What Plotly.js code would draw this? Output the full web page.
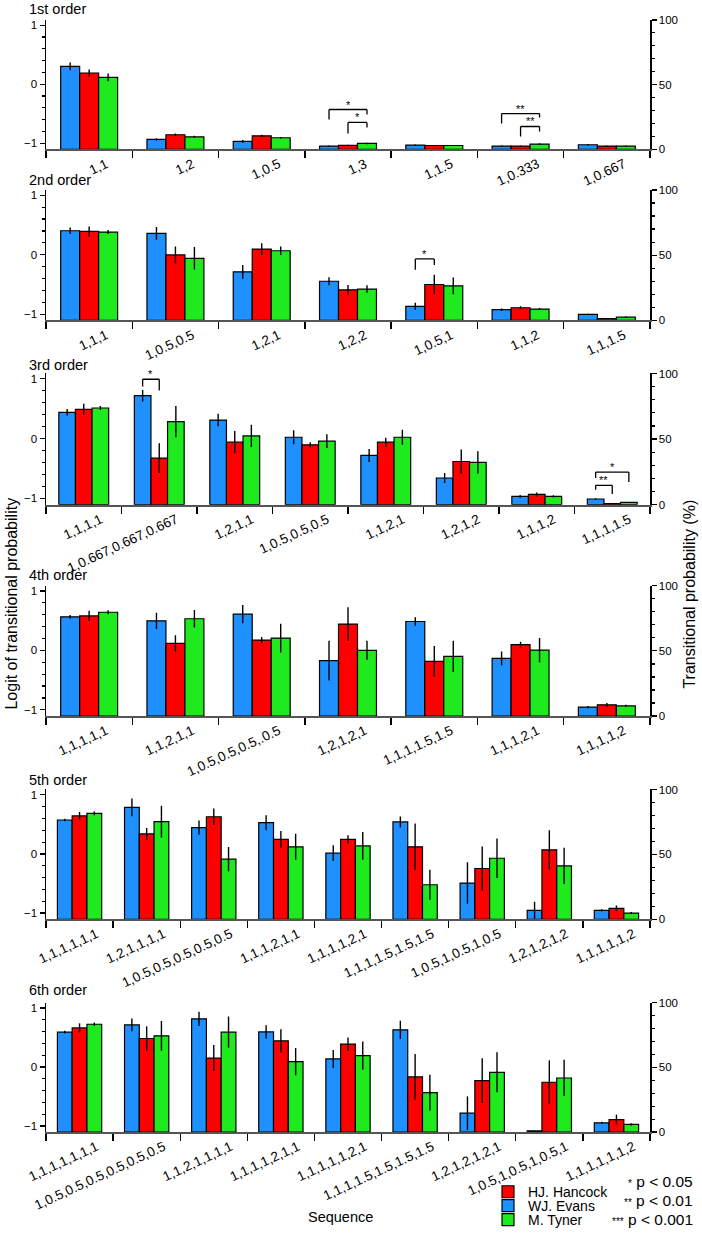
<!DOCTYPE html>
<html>
<head>
<meta charset="utf-8">
<script src="https://cdn.plot.ly/plotly-3.0.1.min.js"></script>
<style>
body { margin: 0; background: #fff; }
#chart { width: 702px; height: 1236px; }
</style>
</head>
<body>
<div id="chart"></div>
<script>
// panel titles
const orderTitles = ["1st order", "2nd order", "3rd order", "4th order", "5th order", "6th order"];

// sequences per order
const categories = [
    ["1,1", "1,2", "1,0.5", "1,3", "1,1.5", "1,0.333", "1,0.667"],
    ["1,1,1", "1,0.5,0.5", "1,2,1", "1,2,2", "1,0.5,1", "1,1,2", "1,1,1.5"],
    ["1,1,1,1", "1,0.667,0.667,0.667", "1,2,1,1", "1,0.5,0.5,0.5", "1,1,2,1", "1,2,1,2", "1,1,1,2", "1,1,1,1.5"],
    ["1,1,1,1,1", "1,1,2,1,1", "1,0.5,0.5,0.5,.0.5", "1,2,1,2,1", "1,1,1,1.5,1.5", "1,1,1,2,1", "1,1,1,1,2"],
    ["1,1,1,1,1,1", "1,2,1,1,1,1", "1,0.5,0.5,0.5,0.5,0.5", "1,1,1,2,1,1", "1,1,1,1,2,1", "1,1,1,1.5,1.5,1.5", "1,0.5,1,0.5,1,0.5", "1,2,1,2,1,2", "1,1,1,1,1,2"],
    ["1,1,1,1,1,1,1", "1,0.5,0.5,0.5,0.5,0.5,0.5", "1,1,2,1,1,1,1", "1,1,1,1,2,1,1", "1,1,1,1,1,2,1", "1,1,1,1.5,1.5,1.5,1.5", "1,2,1,2,1,2,1", "1,0.5,1,0.5,1,0.5,1", "1,1,1,1,1,1,2"]
];

// transitional probability (%) per order
const evansVals = [
    [64.1, 7.7, 6.2, 2.6, 3.3, 2.6, 3.6],
    [68.7, 66.7, 37.2, 30.0, 10.7, 8.2, 4.6],
    [70.4, 83.1, 64.5, 51.4, 37.5, 20.3, 6.3, 4.3],
    [76.1, 73.0, 78.1, 42.5, 72.5, 44.3, 6.9],
    [76.5, 86.2, 70.6, 74.4, 50.9, 75.0, 27.9, 6.9, 6.9],
    [77.2, 82.8, 87.5, 77.4, 56.5, 79.0, 14.6, 1.0, 7.2]
];
const hancockVals = [
    [59.0, 11.3, 10.5, 3.1, 3.0, 2.6, 2.6],
    [68.2, 50.2, 54.7, 23.4, 27.5, 9.7, 1.3],
    [72.7, 35.5, 47.6, 45.6, 47.6, 32.9, 7.8, 0.8],
    [76.8, 55.7, 58.3, 70.5, 42.0, 54.7, 8.6],
    [79.6, 65.8, 79.0, 61.6, 61.6, 55.8, 39.1, 53.5, 8.4],
    [80.5, 72.3, 57.2, 70.5, 68.0, 42.6, 39.8, 38.5, 9.7]
];
const tynerVals = [
    [55.6, 9.7, 9.0, 4.6, 3.0, 4.1, 2.6],
    [67.7, 47.6, 53.4, 24.0, 26.5, 8.7, 2.5],
    [73.7, 63.3, 52.4, 48.4, 51.4, 32.2, 6.3, 1.8],
    [79.6, 74.6, 59.8, 50.4, 45.8, 50.6, 7.9],
    [81.6, 75.2, 46.3, 55.8, 56.5, 26.6, 47.0, 41.2, 4.8],
    [83.3, 74.4, 77.2, 54.4, 59.0, 30.5, 46.2, 41.8, 5.9]
];

// error bar half lengths (%)
const evansErr = [
    [3.0, 1.0, 1.0, 0.4, 0.5, 0.4, 0.5],
    [2.5, 4.8, 5.3, 3.0, 2.8, 1.0, 0.5],
    [2.5, 4.4, 4.8, 5.4, 5.0, 3.8, 1.0, 0.5],
    [1.3, 6.2, 7.0, 15.3, 3.2, 5.3, 0.8],
    [1.0, 6.8, 5.5, 5.8, 6.1, 4.2, 16.0, 6.5, 0.8],
    [1.0, 4.9, 5.5, 5.1, 6.9, 7.0, 13.0, 0, 0.8]
];
const hancockErr = [
    [2.8, 1.0, 0.8, 0.4, 0.4, 0.4, 0.4],
    [3.8, 6.5, 4.5, 3.8, 7.4, 1.2, 0.3],
    [4.3, 11.4, 8.5, 2.0, 3.4, 9.1, 1.5, 0.2],
    [4.0, 6.2, 2.3, 13.0, 11.8, 2.3, 1.5],
    [3.0, 4.5, 6.4, 6.4, 3.2, 17.9, 16.9, 15.0, 2.2],
    [3.5, 9.4, 10.0, 9.0, 5.1, 17.7, 17.3, 16.9, 3.8]
];
const tynerErr = [
    [3.0, 0.8, 0.6, 0.6, 0.4, 0.6, 0.4],
    [1.5, 8.6, 3.3, 2.9, 6.4, 0.8, 0.4],
    [1.6, 12.0, 8.5, 5.3, 5.7, 8.5, 0.8, 0.3],
    [1.5, 6.7, 11.0, 7.3, 12.0, 9.3, 0.8],
    [1.5, 12.2, 9.3, 10.0, 10.7, 11.5, 15.3, 14.0, 0.8],
    [1.3, 11.5, 12.0, 10.5, 10.9, 13.8, 15.4, 14.0, 1.0]
];

// significance brackets: order index, category index, from bar, to bar, top, left end, right end, stars
const brackets = [
    [0, 3, 0, 2, 30.8, 23.0, 27.0, "*"],
    [0, 3, 1, 2, 20.8, 12.3, 17.0, "*"],
    [0, 5, 0, 2, 27.7, 20.0, 24.6, "**"],
    [0, 5, 1, 2, 17.7, 10.0, 13.8, "**"],
    [1, 4, 0, 1, 47.1, 38.9, 42.5, "*"],
    [2, 1, 0, 1, 95.6, 90.0, 87.0, "*"],
    [2, 7, 0, 2, 24.8, 20.3, 17.2, "*"],
    [2, 7, 0, 1, 14.7, 11.4, 8.1, "**"]
];

const seriesNames = ["WJ. Evans", "HJ. Hancock", "M. Tyner"];
const seriesColors = ["#1E90FF", "#FF0000", "#1EEA1E"];
const seriesLegend = ["legend2", "legend", "legend3"];

const W = 702, H = 1236;
const ML = 46, MR = 52;
// pixel rows of each panel: [top (100 %), base (0 %)]
const panelPx = [[20, 150], [190.7, 321.7], [375, 506.7], [588, 719], [792.7, 923], [1006.7, 1136.7]];
const titlePx = [9, 181, 366, 577, 783, 994];
const legendPx = [1197, 1211, 1225];
const bargap = 0.34;
const barOff = (1 - bargap) / 3;
const font = "Liberation Sans, Arial, sans-serif";

function px2x(p) { return (p - ML) / (W - ML - MR); }
function px2y(p) { return 1 - p / H; }

let data = [];
let layout = {
    width: W, height: H,
    margin: { l: ML, r: MR, t: 0, b: 0 },
    paper_bgcolor: "white", plot_bgcolor: "white",
    font: { family: font, color: "black", size: 12 },
    barmode: "group", bargap: bargap, bargroupgap: 0,
    showlegend: true,
    shapes: [],
    annotations: []
};

// one small legend per entry so rows can sit close together
["legend", "legend2", "legend3"].forEach(function (lg, i) {
    layout[lg] = {
        x: px2x(488), xanchor: "left", y: px2y(legendPx[i]), yanchor: "middle",
        font: { size: 14 }, bgcolor: "rgba(0,0,0,0)", borderwidth: 0, itemwidth: 30
    };
});

let valsAll = [evansVals, hancockVals, tynerVals];
let errsAll = [evansErr, hancockErr, tynerErr];

for (let p = 0; p < 6; p++) {
    let n = p + 1;
    let xid = n === 1 ? "x" : "x" + n;
    let yid = n === 1 ? "y" : "y" + n;
    let lid = "y" + (n + 6);
    let cats = categories[p];

    for (let s = 0; s < 3; s++) {
        data.push({
            type: "bar",
            x: cats,
            y: valsAll[s][p],
            name: seriesNames[s],
            legendgroup: seriesNames[s],
            legend: seriesLegend[s],
            showlegend: p === 0,
            marker: { color: seriesColors[s], line: { color: "black", width: 1.2 } },
            error_y: { type: "data", array: errsAll[s][p], visible: true, color: "black", thickness: 1.4, width: 0 },
            xaxis: xid, yaxis: yid,
            hoverinfo: "x+y+name"
        });
    }
    // invisible trace so the logit axis gets drawn
    data.push({
        type: "scatter", x: [cats[0]], y: [0], mode: "markers",
        marker: { opacity: 0 }, showlegend: false, hoverinfo: "skip",
        xaxis: xid, yaxis: lid
    });

    let dom = [px2y(panelPx[p][1]), px2y(panelPx[p][0])];
    layout["xaxis" + (n === 1 ? "" : n)] = {
        domain: [0, 1], anchor: yid, type: "category",
        range: [-0.5, cats.length - 0.5],
        tickson: "boundaries", ticks: "outside", ticklen: 7, tickwidth: 1.3, tickcolor: "black",
        showline: true, linecolor: "#555", linewidth: 2,
        tickangle: -25, ticklabelshift: 17,
        tickfont: { size: 13.5 }, showgrid: false, automargin: false, fixedrange: true
    };
    layout["yaxis" + (n === 1 ? "" : n)] = {
        domain: dom, anchor: xid, side: "right",
        range: [0, 100], tickmode: "linear", tick0: 0, dtick: 50,
        ticks: "outside", ticklen: 5, tickwidth: 1.2, tickcolor: "black",
        minor: { tickmode: "linear", tick0: 0, dtick: 10, ticks: "outside", ticklen: 3, tickcolor: "black", showgrid: false },
        showline: true, linecolor: "black", linewidth: 1.5,
        showgrid: false, zeroline: false, tickfont: { size: 11.5 }, automargin: false, fixedrange: true
    };
    layout["yaxis" + (n + 6)] = {
        overlaying: yid, anchor: xid, side: "left",
        range: [-1.105, 1.09], tickmode: "linear", tick0: 0, dtick: 1,
        ticks: "outside", ticklen: 5, tickwidth: 1.2, tickcolor: "black",
        minor: { tickmode: "linear", tick0: 0, dtick: 0.2, ticks: "outside", ticklen: 3, tickcolor: "black", showgrid: false },
        showline: true, linecolor: "black", linewidth: 1.5,
        showgrid: false, zeroline: false, tickfont: { size: 11.5 }, automargin: false, fixedrange: true
    };

    layout.annotations.push({
        text: orderTitles[p], xref: "paper", yref: "paper",
        x: px2x(27), y: px2y(titlePx[p]), xanchor: "left", yanchor: "middle",
        showarrow: false, font: { size: 14.5 }
    });
}

// significance brackets
brackets.forEach(function (b) {
    let n = b[0] + 1;
    let xref = n === 1 ? "x" : "x" + n;
    let yref = n === 1 ? "y" : "y" + n;
    let xl = b[1] + (b[2] - 1) * barOff;
    let xr = b[1] + (b[3] - 1) * barOff;
    let line = { color: "black", width: 1.3 };
    layout.shapes.push({ type: "line", xref: xref, yref: yref, x0: xl, x1: xr, y0: b[4], y1: b[4], line: line });
    layout.shapes.push({ type: "line", xref: xref, yref: yref, x0: xl, x1: xl, y0: b[4], y1: b[5], line: line });
    layout.shapes.push({ type: "line", xref: xref, yref: yref, x0: xr, x1: xr, y0: b[4], y1: b[6], line: line });
    layout.annotations.push({
        text: b[7], xref: xref, yref: yref, x: (xl + xr) / 2, y: b[4],
        xanchor: "center", yanchor: "bottom", yshift: -3, showarrow: false, font: { size: 11 }
    });
});

// shared axis titles
layout.annotations.push({
    text: "Logit of transitional probability", xref: "paper", yref: "paper",
    x: px2x(12), y: px2y(606), xanchor: "center", yanchor: "middle",
    textangle: -90, showarrow: false, font: { size: 16 }
});
layout.annotations.push({
    text: "Transitional probability (%)", xref: "paper", yref: "paper",
    x: px2x(690), y: px2y(596), xanchor: "center", yanchor: "middle",
    textangle: -90, showarrow: false, font: { size: 16 }
});
layout.annotations.push({
    text: "Sequence", xref: "paper", yref: "paper",
    x: px2x(340), y: px2y(1222), xanchor: "center", yanchor: "middle",
    showarrow: false, font: { size: 14.5 }
});

// p-value key
const pKeys = [["*", "p < 0.05"], ["**", "p < 0.01"], ["***", "p < 0.001"]];
const pKeyRows = [1186, 1205, 1224];
pKeys.forEach(function (k, i) {
    layout.annotations.push({
        text: "<span style='font-size:10px'>" + k[0] + "</span> " + k[1],
        xref: "paper", yref: "paper", x: px2x(695), y: px2y(pKeyRows[i]),
        xanchor: "right", yanchor: "middle", showarrow: false, font: { size: 15.5 }
    });
});

Plotly.newPlot("chart", data, layout, { staticPlot: true });
</script>
</body>
</html>
